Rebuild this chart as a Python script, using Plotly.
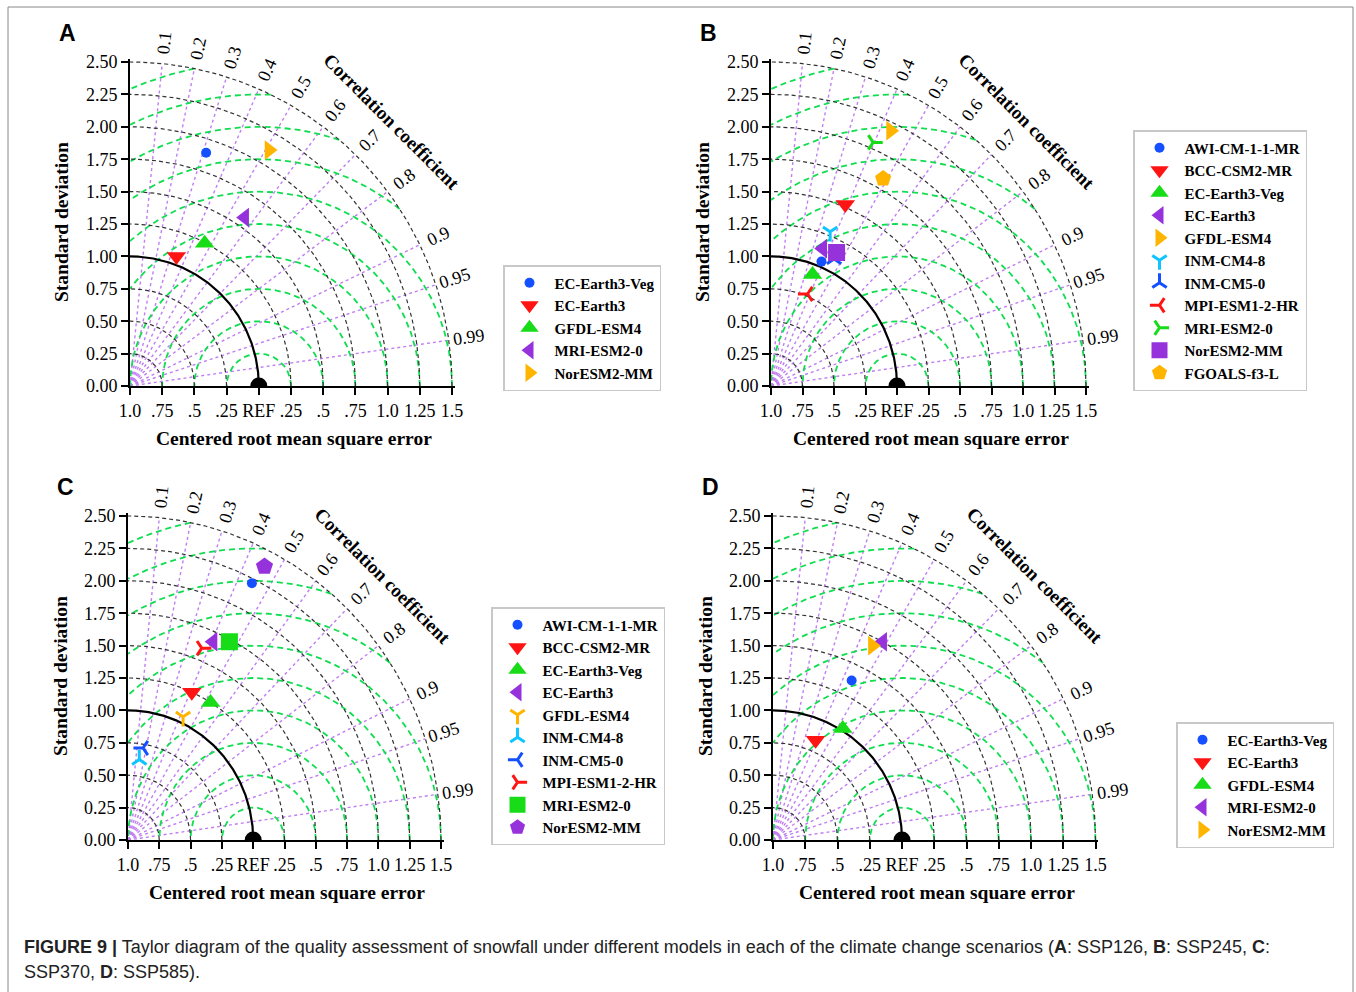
import numpy as np
import plotly.graph_objects as go

W, H = 1356, 992

# ---------------- data ----------------
panel_letters = ["A", "B", "C", "D"]

# Panel A (SSP126)
a_models = ["EC-Earth3-Veg", "EC-Earth3", "GFDL-ESM4", "MRI-ESM2-0", "NorESM2-MM"]
a_std = [1.894, 1.063, 1.244, 1.576, 2.116]
a_corr = [0.312, 0.339, 0.466, 0.565, 0.510]

# Panel B (SSP245)
b_models = ["AWI-CM-1-1-MR", "BCC-CSM2-MR", "EC-Earth3-Veg", "EC-Earth3", "GFDL-ESM4",
            "INM-CM4-8", "INM-CM5-0", "MPI-ESM1-2-HR", "MRI-ESM2-0", "NorESM2-MM", "FGOALS-f3-L"]
b_std = [1.040, 1.519, 0.921, 1.137, 2.187, 1.279, 1.100, 0.767, 2.047, 1.154, 1.831]
b_corr = [0.385, 0.388, 0.358, 0.361, 0.434, 0.367, 0.455, 0.378, 0.396, 0.451, 0.486]

# Panel C (SSP370)
c_models = ["AWI-CM-1-1-MR", "BCC-CSM2-MR", "EC-Earth3-Veg", "EC-Earth3", "GFDL-ESM4",
            "INM-CM4-8", "INM-CM5-0", "MPI-ESM1-2-HR", "MRI-ESM2-0", "NorESM2-MM"]
c_std = [2.214, 1.249, 1.249, 1.674, 1.047, 0.627, 0.720, 1.593, 1.731, 2.375]
c_corr = [0.447, 0.408, 0.528, 0.406, 0.420, 0.144, 0.167, 0.370, 0.468, 0.459]

# Panel D (SSP585)
d_models = ["EC-Earth3-Veg", "EC-Earth3", "GFDL-ESM4", "MRI-ESM2-0", "NorESM2-MM"]
d_std = [1.373, 0.838, 1.016, 1.750, 1.686]
d_corr = [0.444, 0.394, 0.532, 0.486, 0.457]

corr_ticks = [0.1, 0.2, 0.3, 0.4, 0.5, 0.6, 0.7, 0.8, 0.9, 0.95, 0.99]
corr_tick_labels = ["0.1", "0.2", "0.3", "0.4", "0.5", "0.6", "0.7", "0.8", "0.9", "0.95", "0.99"]
std_ticks = [0.0, 0.25, 0.5, 0.75, 1.0, 1.25, 1.5, 1.75, 2.0, 2.25, 2.5]
std_tick_labels = ["0.00", "0.25", "0.50", "0.75", "1.00", "1.25", "1.50", "1.75", "2.00", "2.25", "2.50"]
rmse_tick_labels = ["1.0", ".75", ".5", ".25", "REF", ".25", ".5", ".75", "1.0", "1.25", "1.5"]
rmse_radii = [0.25, 0.5, 0.75, 1.0, 1.25, 1.5, 1.75, 2.0, 2.25, 2.5]
ref_std = 1.0
max_std = 2.5

# styles
BLUE, RED, GREEN, PURPLE, ORANGE, CYAN = "#1450ff", "#ff1414", "#18dc18", "#9632dc", "#ffb400", "#10c4ff"
styles_5 = [("circle", BLUE, 10), ("triangle-down", RED, 17), ("triangle-up", GREEN, 17),
            ("triangle-left", PURPLE, 17), ("triangle-right", ORANGE, 17)]
styles_b = styles_5 + [("y-down", CYAN, 12), ("y-up", BLUE, 12), ("y-left", RED, 12),
                       ("y-right", GREEN, 12), ("square", PURPLE, 17), ("pentagon", ORANGE, 17)]
styles_c = styles_5[:4] + [("y-down", ORANGE, 12), ("y-up", CYAN, 12), ("y-left", BLUE, 12),
                           ("y-right", RED, 12), ("square", GREEN, 17), ("pentagon", PURPLE, 18)]

panels = [
    dict(models=a_models, std=a_std, corr=a_corr, styles=styles_5, x0=130, y0=386, sx=128.8, lx=503, ly=265),
    dict(models=b_models, std=b_std, corr=b_corr, styles=styles_b, x0=771, y0=386, sx=126.0, lx=1133, ly=130),
    dict(models=c_models, std=c_std, corr=c_corr, styles=styles_c, x0=128, y0=840, sx=125.2, lx=491, ly=607),
    dict(models=d_models, std=d_std, corr=d_corr, styles=styles_5, x0=773, y0=840, sx=129.0, lx=1176, ly=722),
]
SY = 129.6
RMAX = 2.52

fig = go.Figure()
SERIF = "Liberation Serif"
SANS = "Liberation Sans"
annotations = []
shapes = []
layout = {}


def paper(px, py):
    return px / W, 1 - py / H


for i, p in enumerate(panels):
    n = "" if i == 0 else str(i + 1)
    xa, ya = "x" + n, "y" + n
    leg = "legend" + n
    x_left = p["x0"] / W
    x_right = (p["x0"] + RMAX * p["sx"]) / W
    y_bot = 1 - p["y0"] / H
    y_top = 1 - (p["y0"] - RMAX * SY) / H
    axcommon = dict(range=[0, RMAX], showgrid=False, zeroline=False, showline=True, linecolor="black",
                    linewidth=2, ticks="outside", ticklen=7, tickwidth=2, tickcolor="black",
                    tickvals=std_ticks, automargin=False,
                    tickfont=dict(family=SERIF, size=18, color="black"))
    layout["xaxis" + n] = dict(domain=[x_left, x_right], anchor=ya, ticktext=rmse_tick_labels, **axcommon)
    layout["yaxis" + n] = dict(domain=[y_bot, y_top], anchor=xa, ticktext=std_tick_labels, **axcommon)

    # correlation rays
    for c in corr_ticks:
        s = np.sqrt(1 - c * c)
        fig.add_trace(go.Scatter(x=[0, max_std * c], y=[0, max_std * s], mode="lines", xaxis=xa, yaxis=ya,
                                 line=dict(color="#c07ef2", width=1.4, dash="dot"), showlegend=False,
                                 hoverinfo="skip"))
    # RMSE arcs (green) centred on REF
    for r in rmse_radii:
        lo = np.arccos(min(1.0, (max_std ** 2 - ref_std ** 2 - r ** 2) / (2 * r * ref_std)))
        hi = np.arccos(max(-1.0, -ref_std / r))
        ph = np.linspace(lo, hi, 200)
        fig.add_trace(go.Scatter(x=ref_std + r * np.cos(ph), y=r * np.sin(ph), mode="lines", xaxis=xa, yaxis=ya,
                                 line=dict(color="#10dd50", width=1.8, dash="6px,4px"), showlegend=False,
                                 hoverinfo="skip"))
    # std arcs (black)
    th = np.linspace(0, np.pi / 2, 200)
    for r in std_ticks[1:]:
        if r == ref_std:
            ln = dict(color="black", width=2.2)
        else:
            ln = dict(color="#333333", width=1.2, dash="4px,3px")
        fig.add_trace(go.Scatter(x=r * np.cos(th), y=r * np.sin(th), mode="lines", xaxis=xa, yaxis=ya,
                                 line=ln, showlegend=False, hoverinfo="skip"))
    # REF point
    fig.add_trace(go.Scatter(x=[ref_std], y=[0], mode="markers", xaxis=xa, yaxis=ya, cliponaxis=True,
                             marker=dict(color="black", size=17, symbol="circle"), showlegend=False))
    # models
    for m, sd, cr, (sym, col, sz) in zip(p["models"], p["std"], p["corr"], p["styles"]):
        mk = dict(symbol=sym, color=col, size=sz)
        if sym.startswith("y-"):
            mk["line"] = dict(color=col, width=3)
        else:
            mk["line"] = dict(width=0)
        fig.add_trace(go.Scatter(x=[sd * cr], y=[sd * np.sqrt(1 - cr * cr)], mode="markers", name=m,
                                 xaxis=xa, yaxis=ya, marker=mk, legend=leg, cliponaxis=False))
    layout[leg] = dict(x=p["lx"] / W, y=1 - p["ly"] / H, xanchor="left", yanchor="top",
                       bgcolor="white", bordercolor="#c8c8c8", borderwidth=1.5,
                       font=dict(family=SERIF, size=15, color="black", weight="bold"),
                       itemsizing="trace", itemwidth=40, tracegroupgap=0)

    def to_px(x, y):
        return paper(p["x0"] + x * p["sx"], p["y0"] - y * SY)

    # correlation labels
    for c, lab in zip(corr_ticks, corr_tick_labels):
        ang = np.degrees(np.arccos(c))
        rr = 2.66
        ax_, ay_ = to_px(rr * c, rr * np.sqrt(1 - c * c))
        annotations.append(dict(x=ax_, y=ay_, xref="paper", yref="paper", text=lab,
                                xanchor="center", yanchor="middle",
                                showarrow=False, textangle=-ang,
                                font=dict(family=SERIF, size=18, color="black")))
    ax_, ay_ = to_px(2.03, 2.04)
    annotations.append(dict(x=ax_, y=ay_, xref="paper", yref="paper", text="<b>Correlation coefficient</b>",
                            xanchor="center", yanchor="middle",
                            showarrow=False, textangle=45, font=dict(family=SERIF, size=19, color="black")))
    # axis titles
    ax_, ay_ = paper(p["x0"] - 68, p["y0"] - 164)
    annotations.append(dict(x=ax_, y=ay_, xref="paper", yref="paper", xanchor="center", yanchor="middle",
                            text="<b>Standard deviation</b>", showarrow=False, textangle=-90,
                            font=dict(family=SERIF, size=19.5, color="black")))
    ax_, ay_ = paper(p["x0"] + 1.27 * p["sx"], p["y0"] + 52)
    annotations.append(dict(x=ax_, y=ay_, xref="paper", yref="paper", xanchor="center", yanchor="middle",
                            text="<b>Centered root mean square error</b>", showarrow=False,
                            font=dict(family=SERIF, size=19.5, color="black")))
    # panel letter
    ax_, ay_ = paper(p["x0"] - 63, p["y0"] - 353)
    annotations.append(dict(x=ax_, y=ay_, xref="paper", yref="paper", xanchor="center", yanchor="middle",
                            text="<b>" + panel_letters[i] + "</b>", showarrow=False,
                            font=dict(family=SANS, size=23, color="black")))

cx, cy = paper(22, 947)
annotations.append(dict(x=cx, y=cy, xref="paper", yref="paper", xanchor="left", yanchor="middle",
                        text="<b>FIGURE 9 |</b> Taylor diagram of the quality assessment of snowfall under different "
                             "models in each of the climate change scenarios (<b>A</b>: SSP126, <b>B</b>: SSP245, "
                             "<b>C</b>:",
                        showarrow=False, font=dict(family=SANS, size=18, color="#222222")))
cx, cy = paper(22, 972)
annotations.append(dict(x=cx, y=cy, xref="paper", yref="paper", xanchor="left", yanchor="middle",
                        text="SSP370, <b>D</b>: SSP585).", showarrow=False,
                        font=dict(family=SANS, size=18, color="#222222")))

shapes.append(dict(type="rect", xref="paper", yref="paper", x0=8 / W, x1=1353 / W, y0=-0.02, y1=1 - 7 / H,
                   line=dict(color="#888888", width=1)))

fig.update_layout(width=W, height=H, margin=dict(l=0, r=0, t=0, b=0, pad=0, autoexpand=False),
                  plot_bgcolor="white", paper_bgcolor="white", annotations=annotations, shapes=shapes, **layout)
fig.write_html("out.html", config={"displayModeBar": False},
               post_script="document.body.style.margin='0px';")
